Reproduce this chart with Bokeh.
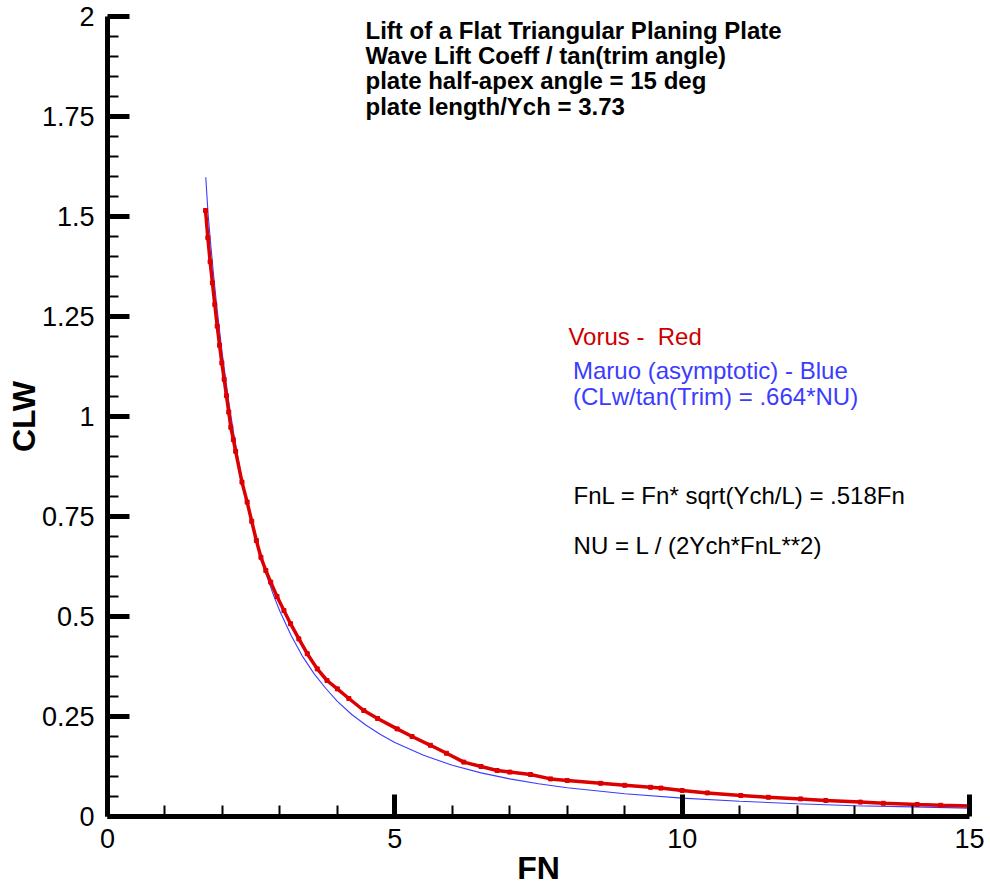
from bokeh.plotting import figure
from bokeh.models import Range1d, FixedTicker, Label, CustomJSTickFormatter
from bokeh.embed import file_html
from bokeh.resources import INLINE

# Vorus (red)
fn_vorus = [1.706, 1.746, 1.786, 1.826, 1.867, 1.909, 1.950, 1.990, 2.030, 2.070,
            2.110, 2.146, 2.190, 2.230, 2.340, 2.430, 2.510, 2.590, 2.670, 2.755,
            2.840, 2.950, 3.070, 3.185, 3.330, 3.476, 3.650, 3.820, 4.000, 4.200,
            4.460, 4.700, 5.040, 5.300, 5.620, 5.900, 6.200, 6.500, 6.780, 7.000,
            7.360, 7.710, 8.000, 8.580, 9.000, 9.450, 9.630, 10.000, 10.440, 11.020,
            11.500, 12.060, 12.500, 13.100, 13.500, 14.090, 14.500, 15.000]
clw_vorus = [1.515, 1.447, 1.387, 1.334, 1.280, 1.226, 1.178, 1.134, 1.093, 1.052,
             1.011, 0.973, 0.942, 0.913, 0.836, 0.786, 0.738, 0.690, 0.648, 0.615,
             0.586, 0.550, 0.515, 0.482, 0.444, 0.407, 0.369, 0.340, 0.319, 0.295,
             0.265, 0.245, 0.219, 0.200, 0.178, 0.158, 0.136, 0.125, 0.115, 0.111,
             0.105, 0.094, 0.090, 0.083, 0.078, 0.073, 0.071, 0.065, 0.059, 0.0525,
             0.048, 0.044, 0.040, 0.036, 0.033, 0.030, 0.028, 0.026]

# Maruo asymptotic (blue)
fn_maruo = [1.71, 1.75, 1.80, 1.85, 1.90, 1.95, 2.0, 2.1, 2.2, 2.3, 2.4, 2.5, 2.6,
            2.7, 2.8, 2.9, 3.0, 3.2, 3.4, 3.6, 3.8, 4.0, 4.25, 4.5, 4.75, 5.0, 5.5,
            6.0, 6.5, 7.0, 7.5, 8.0, 9.0, 10.0, 11.0, 12.0, 13.0, 14.0, 15.0]
clw_maruo = [1.598, 1.507, 1.424, 1.348, 1.278, 1.214, 1.154, 1.046, 0.954, 0.872,
             0.801, 0.738, 0.683, 0.633, 0.589, 0.549, 0.513, 0.451, 0.399, 0.356,
             0.320, 0.288, 0.255, 0.228, 0.205, 0.185, 0.153, 0.128, 0.109, 0.094,
             0.082, 0.072, 0.057, 0.046, 0.038, 0.032, 0.027, 0.024, 0.021]

x_major = [0, 5, 10, 15]
x_minor = [1, 2, 3, 4, 6, 7, 8, 9, 11, 12, 13, 14]
y_major = [0, 0.25, 0.5, 0.75, 1, 1.25, 1.5, 1.75, 2]
y_minor = [0.05, 0.1, 0.15, 0.2, 0.3, 0.35, 0.4, 0.45, 0.55, 0.6, 0.65, 0.7,
           0.8, 0.85, 0.9, 0.95, 1.05, 1.1, 1.15, 1.2, 1.3, 1.35, 1.4, 1.45,
           1.55, 1.6, 1.65, 1.7, 1.8, 1.85, 1.9, 1.95]

title_lines = ["Lift of a Flat Triangular Planing Plate",
               "Wave Lift Coeff / tan(trim angle)",
               "plate half-apex angle = 15 deg",
               "plate length/Ych = 3.73"]

FONT = "Liberation Sans"
RED = "#dd0000"
BLUE = "#3c3cff"

p = figure(width=990, height=888, x_range=Range1d(0, 15), y_range=Range1d(0, 2),
           output_backend="svg", toolbar_location=None,
           min_border_left=107, min_border_right=21, min_border_top=16,
           min_border_bottom=72)
p.outline_line_color = None
p.xgrid.visible = False
p.ygrid.visible = False
p.background_fill_color = "white"
p.border_fill_color = "white"

fmt = CustomJSTickFormatter(code="return String(Number(tick.toFixed(4)));")
for ax, maj, mnr in ((p.xaxis[0], x_major, x_minor), (p.yaxis[0], y_major, y_minor)):
    ax.ticker = FixedTicker(ticks=maj, minor_ticks=mnr)
    ax.formatter = fmt
    ax.axis_line_width = 5
    ax.axis_line_color = "black"
    ax.major_tick_in = 22
    ax.major_tick_out = 0
    ax.minor_tick_in = 11
    ax.minor_tick_out = 0
    ax.major_tick_line_width = 5
    ax.minor_tick_line_width = 2
    ax.major_tick_line_color = "black"
    ax.minor_tick_line_color = "black"
    ax.major_label_text_font = FONT
    ax.major_label_text_font_size = "27px"
    ax.major_label_text_color = "black"
    ax.axis_label_text_font = FONT
    ax.axis_label_text_font_style = "bold"
    ax.axis_label_text_font_size = "32px"
    ax.axis_label_text_color = "black"

p.xaxis.axis_label = "FN"
p.yaxis.axis_label = "CLW"
p.xaxis.major_label_standoff = 12
p.yaxis.major_label_standoff = 13
p.xaxis.axis_label_standoff = -1
p.yaxis.axis_label_standoff = -3

p.line(fn_maruo, clw_maruo, line_color=BLUE, line_width=1.1)
p.line(fn_vorus, clw_vorus, line_color=RED, line_width=3.5)
p.scatter(fn_vorus, clw_vorus, marker="square", size=4, color=RED)

title_y = [1.966, 1.902, 1.839, 1.776]
for txt, yy in zip(title_lines, title_y):
    p.add_layout(Label(x=4.49, y=yy, text=txt, text_font=FONT, text_font_style="bold",
                       text_font_size="24px", text_baseline="middle", text_color="black"))

notes = [("Vorus -\u00a0 Red", 8.02, 1.2008, "#cc0000"),
         ("Maruo (asymptotic) - Blue", 8.10, 1.115, BLUE),
         ("(CLw/tan(Trim) = .664*NU)", 8.10, 1.05, BLUE),
         ("FnL = Fn* sqrt(Ych/L) = .518Fn", 8.11, 0.8025, "black"),
         ("NU = L / (2Ych*FnL**2)", 8.11, 0.6775, "black")]
for txt, xx, yy, col in notes:
    p.add_layout(Label(x=xx, y=yy, text=txt, text_font=FONT, text_font_size="24px",
                       text_baseline="middle", text_color=col))

open("out.html", "w").write(file_html(p, INLINE))
